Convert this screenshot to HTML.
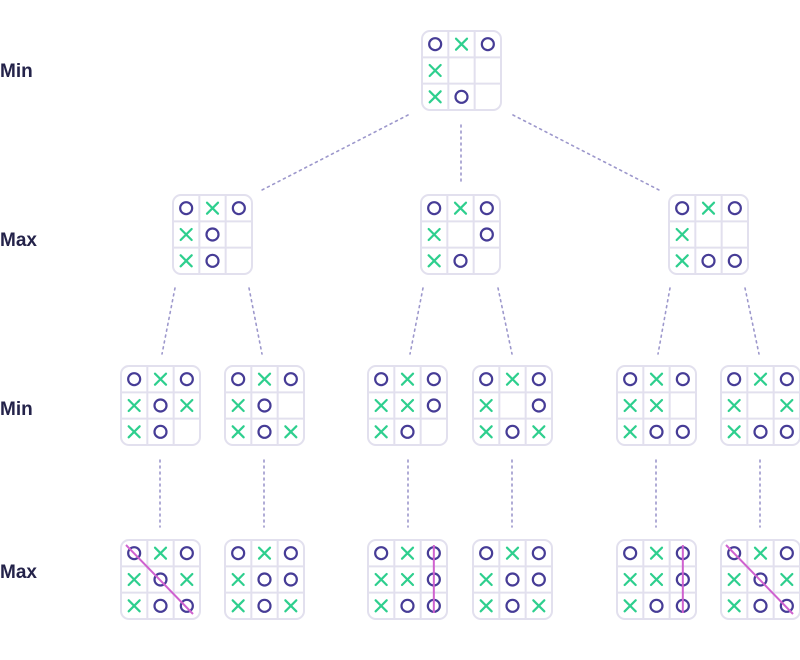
<!DOCTYPE html>
<html><head><meta charset="utf-8"><style>
html,body{margin:0;padding:0;background:#fff;}
svg{display:block;}
text{font-family:"Liberation Sans",sans-serif;font-weight:bold;font-size:19px;fill:#24234a;}
</style></head><body>
<svg id="c" width="800" height="660" viewBox="0 0 800 660" xmlns="http://www.w3.org/2000/svg">
<g id="edges"></g>
<g id="boards"></g>
<text x="0" y="77">Min</text>
<text x="0" y="246">Max</text>
<text x="0" y="415">Min</text>
<text x="0" y="578">Max</text>
</svg>
<script>
const boardStates=[
 {x:422,y:31,s:"OXOX  XO "},
 {x:173,y:195,s:"OXOXO XO "},
 {x:421,y:195,s:"OXOX OXO "},
 {x:669,y:195,s:"OXOX  XOO"},
 {x:121,y:366,s:"OXOXOXXO "},
 {x:225,y:366,s:"OXOXO XOX"},
 {x:368,y:366,s:"OXOXXOXO "},
 {x:473,y:366,s:"OXOX OXOX"},
 {x:617,y:366,s:"OXOXX XOO"},
 {x:721,y:366,s:"OXOX XXOO"},
 {x:121,y:540,s:"OXOXOXXOO",w:"d"},
 {x:225,y:540,s:"OXOXOOXOX"},
 {x:368,y:540,s:"OXOXXOXOO",w:"c"},
 {x:473,y:540,s:"OXOXOOXOX"},
 {x:617,y:540,s:"OXOXXOXOO",w:"c"},
 {x:721,y:540,s:"OXOXOXXOO",w:"d"}
];
const edges=[
 [408,115,262,190],[461,125,461,182],[513,115,659,190],
 [175,288,162,354],[249,288,262,354],[423,288,410,354],[498,288,512,354],[670,288,658,354],[745,288,759,354],
 [160,460,160,527],[264,460,264,527],[408,460,408,527],[512,460,512,527],[656,460,656,527],[760,460,760,527]
];
const NS="http://www.w3.org/2000/svg";
function mk(t,a,p){const e=document.createElementNS(NS,t);for(const k in a)e.setAttribute(k,a[k]);p.appendChild(e);return e;}
const eg=document.getElementById('edges');
edges.forEach((d,i)=>{
 const l=mk('line',{x1:d[0],y1:d[1],x2:d[2],y2:d[3],stroke:'#9d98cc','stroke-width':1.6,'stroke-dasharray':'2 4','stroke-linecap':'round'},eg);
 
 
});
const bg=document.getElementById('boards');
const W=79,C=W/3;
boardStates.forEach((b,i)=>{
 const g=mk('g',{},bg);
 
 
 mk('rect',{x:b.x,y:b.y,width:W,height:W,rx:8,fill:'#fff',stroke:'#e2e0ee','stroke-width':2},g);
 for(let k=1;k<3;k++){
  mk('line',{x1:b.x+k*C,y1:b.y,x2:b.x+k*C,y2:b.y+W,stroke:'#e2e0ee','stroke-width':2},g);
  mk('line',{x1:b.x,y1:b.y+k*C,x2:b.x+W,y2:b.y+k*C,stroke:'#e2e0ee','stroke-width':2},g);
 }
 for(let j=0;j<9;j++){
  const cx=b.x+(j%3+0.5)*C, cy=b.y+(Math.floor(j/3)+0.5)*C, ch=b.s[j];
  if(ch==='O'){const o=mk('circle',{cx:cx,cy:cy,r:6,fill:'none',stroke:'#463c96','stroke-width':2.2},g);
   }
  else if(ch==='X'){const x=mk('path',{d:`M${cx-5.5} ${cy-5.5}L${cx+5.5} ${cy+5.5}M${cx+5.5} ${cy-5.5}L${cx-5.5} ${cy+5.5}`,stroke:'#2ecf8e','stroke-width':2.2,'stroke-linecap':'round'},g);
   }
 }
 if(b.w){
  let w;
  if(b.w==='d') w=mk('line',{x1:b.x+5,y1:b.y+5,x2:b.x+W-7,y2:b.y+W-5,stroke:'#cf62cf','stroke-width':2},g);
  else w=mk('line',{x1:b.x+2.5*C,y1:b.y+5,x2:b.x+2.5*C,y2:b.y+W-6,stroke:'#cf62cf','stroke-width':2},g);
  
  
 }
});
</script>
</body></html>
